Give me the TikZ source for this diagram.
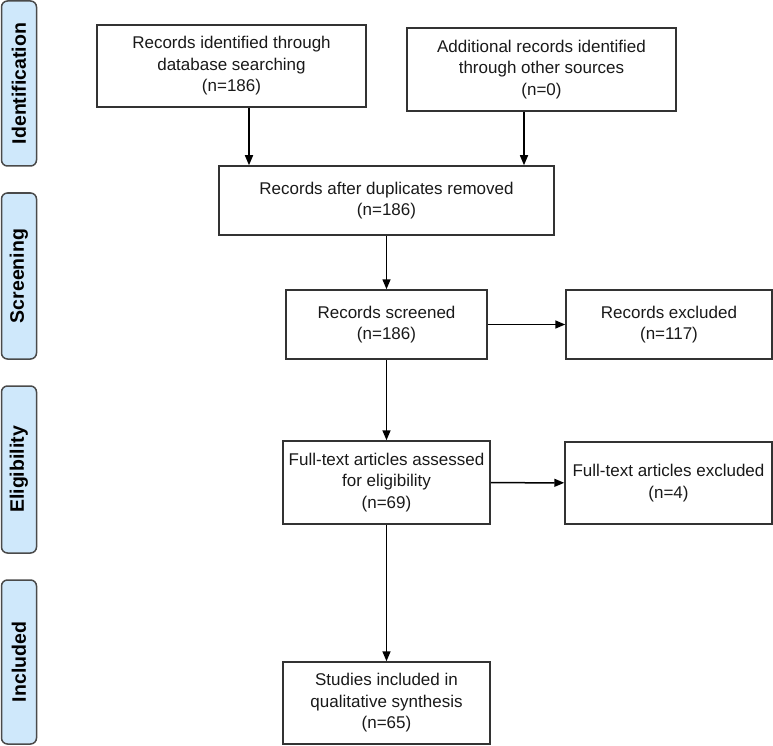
\documentclass[tikz,border=0pt]{standalone}
\usepackage{fontspec}
\setmainfont{Liberation Sans}
\usetikzlibrary{arrows.meta}
\definecolor{phasefill}{HTML}{CFE8FB}
\definecolor{phaseline}{HTML}{4A4A4A}
\begin{document}
\begin{tikzpicture}[x=1pt,y=-1pt,>={Triangle[length=10pt,width=8pt]},
	box/.style={draw=black!80,line width=1.5pt,align=center,inner sep=0pt,text=black!90,font=\fontsize{17}{21.5}\selectfont},
	phase/.style={draw=phaseline,fill=phasefill,rounded corners=6pt,line width=1.5pt,rotate=90,minimum height=35pt,inner sep=0pt,font=\bfseries\fontsize{19.5}{22}\selectfont}]
		\useasboundingbox (0,0) rectangle (773,746);
		% phases on the left
		\foreach \lab/\y/\len [count=\i] in {Identification/83.5/165, Screening/276/166, Eligibility/469.5/167, Included/662/164}
		\node[phase,minimum width=\len pt] (p\i) at (19,\y) {\lab};
		% boxes
		\node[box,minimum width=269pt,minimum height=82pt] (ident) at (231.5,66) {Records identified through\\database searching\\(n=186)};
		\node[box,minimum width=269pt,minimum height=83pt] (other) at (541.5,69.5) {Additional records identified\\through other sources\\(n=0)};
		\node[box,minimum width=335pt,minimum height=69pt] (dup) at (386.5,200.5) {Records after duplicates removed\\(n=186)};
		\node[box,minimum width=201pt,minimum height=69pt] (screen) at (386.5,324.5) {Records screened\\(n=186)};
		\node[box,minimum width=206pt,minimum height=69pt] (excl) at (669,324.5) {Records excluded\\(n=117)};
		\node[box,minimum width=207pt,minimum height=83pt] (full) at (386.5,482.5) {Full-text articles assessed\\for eligibility\\(n=69)};
		\node[box,minimum width=207pt,minimum height=82pt] (fullexcl) at (668.5,483) {Full-text articles excluded\\(n=4)};
		\node[box,minimum width=207pt,minimum height=82pt] (incl) at (386.5,703) {Studies included in\\qualitative synthesis\\(n=65)};
		% arrows
		\coordinate (a1) at ([xshift=17.5pt]ident.south);
		\coordinate (a2) at ([xshift=-17.5pt]other.south);
		\draw[->,line width=1.5pt] (a1) -- (a1 |- dup.north);
		\draw[->,line width=1.5pt] (a2) -- (a2 |- dup.north);
		\draw[->,line width=1.5pt] (dup) -- (screen);
		\draw[->,line width=1.5pt] (screen) -- (excl);
		\draw[->,line width=1.5pt] (screen) -- (full);
		\draw[->,line width=1.5pt] (full) -- (fullexcl);
		\draw[->,line width=1.5pt] (full) -- (incl);
		\end{tikzpicture}
\end{document}
